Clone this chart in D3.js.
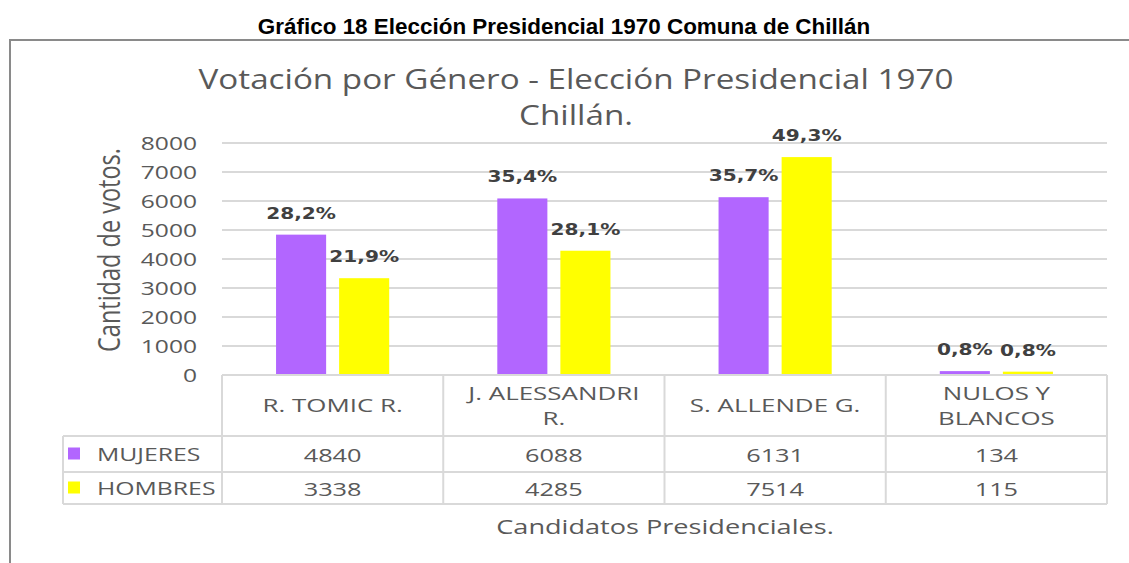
<!DOCTYPE html>
<html>
<head>
<meta charset="utf-8">
<script src="https://cdn.jsdelivr.net/npm/d3@7"></script>
<style>
  body { margin: 0; background: #fff; }
  svg { display: block; }
</style>
</head>
<body>
<div id="chart"></div>
<script>
// chart data
const categories = ["R. TOMIC R.", "J. ALESSANDRI R.", "S. ALLENDE G.", "NULOS Y BLANCOS"];
const categoryLines = [["R. TOMIC R."], ["J. ALESSANDRI", "R."], ["S. ALLENDE G."], ["NULOS Y", "BLANCOS"]];
const seriesNames = ["MUJERES", "HOMBRES"];
const mujeres = [4840, 6088, 6131, 134];
const hombres = [3338, 4285, 7514, 115];
const mujeresPct = ["28,2%", "35,4%", "35,7%", "0,8%"];
const hombresPct = ["21,9%", "28,1%", "49,3%", "0,8%"];
const yTicks = [0, 1000, 2000, 3000, 4000, 5000, 6000, 7000, 8000];

const seriesValues = [mujeres, hombres];
const seriesPct = [mujeresPct, hombresPct];
const colors = ["#b266ff", "#ffff00"];

const width = 1129, height = 563;
const margin = {left: 222, right: 22, top: 143, bottom: 188};
const rowLines = [375, 436, 472, 504];
const legendLeft = 63;
const textGray = "#595959";
const gridGray = "#d9d9d9";
const SX = 1.37;

const svg = d3.select("#chart").append("svg")
  .attr("width", width)
  .attr("height", height)
  .attr("viewBox", `0 0 ${width} ${height}`);

// horizontally stretched text, like the source picture
function stretchedText(parent, x, y, str, opts) {
  const sx = opts.sx || SX;
  return parent.append("text")
    .attr("transform", `translate(${x},${y}) scale(${sx},1)`)
    .attr("text-anchor", opts.anchor || "middle")
    .attr("dominant-baseline", opts.baseline || "auto")
    .attr("font-family", opts.family || "'Open Sans', sans-serif")
    .attr("font-size", opts.size)
    .attr("font-weight", opts.weight || "normal")
    .attr("fill", opts.fill || textGray)
    .text(str);
}

// frame round the chart
svg.append("path")
  .attr("d", `M10,${height} V40 H${width}`)
  .attr("fill", "none")
  .attr("stroke", "#8a8a8a")
  .attr("stroke-width", 2);

// page heading
stretchedText(svg, 564, 34, "Gráfico 18 Elección Presidencial 1970 Comuna de Chillán",
  {size: 22, weight: "bold", fill: "#000", family: "'Liberation Sans', Arial, sans-serif", sx: 1.02});

// chart title
stretchedText(svg, 576, 89, "Votación por Género - Elección Presidencial 1970", {size: 27, sx: 1.23});
stretchedText(svg, 576, 125, "Chillán.", {size: 27, sx: 1.23});

// scales
const x0 = d3.scaleBand()
  .domain(categories)
  .range([margin.left, width - margin.right]);

const x1 = d3.scaleBand()
  .domain(seriesNames)
  .range([0, x0.bandwidth()])
  .paddingInner(0.206)
  .paddingOuter(0.857);

const y = d3.scaleLinear()
  .domain([0, 8000])
  .range([rowLines[0], margin.top]);

// grid
svg.append("g")
  .selectAll("line")
  .data(yTicks.filter(d => d > 0))
  .enter()
  .append("line")
  .attr("x1", margin.left)
  .attr("x2", width - margin.right)
  .attr("y1", d => y(d))
  .attr("y2", d => y(d))
  .attr("stroke", gridGray)
  .attr("stroke-width", 2);

// y tick labels
const tickG = svg.append("g");
yTicks.forEach(t => {
  stretchedText(tickG, 197, y(t), String(t),
    {size: 18.5, anchor: "end", baseline: "central", sx: 1.33});
});

// y axis title
svg.append("text")
  .attr("transform", `translate(120,${(y(0) + y(8000)) / 2 - 9}) rotate(-90) scale(1,1.3)`)
  .attr("text-anchor", "middle")
  .attr("font-family", "'Open Sans', sans-serif")
  .attr("font-size", 23.5)
  .attr("fill", textGray)
  .text("Cantidad de votos.");

// bars
const barsData = [];
categories.forEach((c, i) => {
  seriesNames.forEach((s, j) => {
    barsData.push({cat: c, series: s, value: seriesValues[j][i], pct: seriesPct[j][i], color: colors[j]});
  });
});

svg.append("g")
  .selectAll("rect")
  .data(barsData)
  .enter()
  .append("rect")
  .attr("x", d => x0(d.cat) + x1(d.series))
  .attr("y", d => y(d.value))
  .attr("width", x1.bandwidth())
  .attr("height", d => y(0) - y(d.value))
  .attr("fill", d => d.color);

// data labels
const labelG = svg.append("g");
barsData.forEach(d => {
  stretchedText(labelG, x0(d.cat) + x1(d.series) + x1.bandwidth() / 2, y(d.value) - 16, d.pct,
    {size: 16.5, weight: "bold", fill: "#404040", family: "'DejaVu Sans', Verdana, sans-serif", sx: 1.22});
});

// data table
const table = svg.append("g");
const right = width - margin.right;

function hline(xa, xb, yp) {
  table.append("line").attr("x1", xa).attr("x2", xb).attr("y1", yp).attr("y2", yp)
    .attr("stroke", gridGray).attr("stroke-width", 2);
}
function vline(xp, ya, yb) {
  table.append("line").attr("x1", xp).attr("x2", xp).attr("y1", ya).attr("y2", yb)
    .attr("stroke", gridGray).attr("stroke-width", 2);
}

hline(margin.left, right, rowLines[0]);
hline(legendLeft, right, rowLines[1]);
hline(legendLeft, right, rowLines[2]);
hline(legendLeft, right, rowLines[3]);
vline(legendLeft, rowLines[1], rowLines[3]);
categories.forEach(c => vline(x0(c), rowLines[0], rowLines[3]));
vline(right, rowLines[0], rowLines[3]);

// header cells
categories.forEach((c, i) => {
  const lines = categoryLines[i];
  const cx = x0(c) + x0.bandwidth() / 2;
  const mid = (rowLines[0] + rowLines[1]) / 2;
  lines.forEach((ln, k) => {
    const yy = mid + (k - (lines.length - 1) / 2) * 25;
    stretchedText(table, cx, yy, ln, {size: 18.5, baseline: "central", sx: 1.4});
  });
});

// series rows
seriesNames.forEach((s, j) => {
  const mid = (rowLines[j + 1] + rowLines[j + 2]) / 2;
  table.append("rect")
    .attr("x", 68).attr("y", mid - 6.5)
    .attr("width", 12).attr("height", 12)
    .attr("fill", colors[j]);
  stretchedText(table, 97, mid, s, {size: 18.5, anchor: "start", baseline: "central", sx: 1.34});
  categories.forEach((c, i) => {
    stretchedText(table, x0(c) + x0.bandwidth() / 2, mid, String(seriesValues[j][i]),
      {size: 18.5, baseline: "central"});
  });
});

// x axis title
stretchedText(svg, 665, 534, "Candidatos Presidenciales.", {size: 19.5, sx: 1.39});
</script>
</body>
</html>
